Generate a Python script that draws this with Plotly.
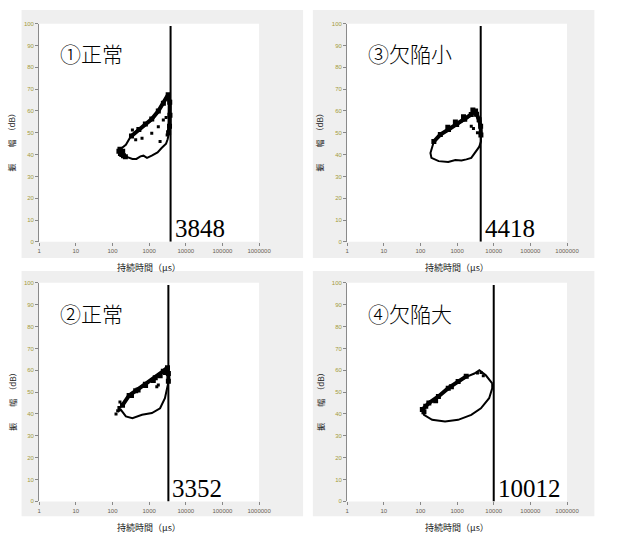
import math
import plotly.graph_objects as go

W, H = 624, 538

# ---------------- data ----------------
line_values = [3848, 4418, 3352, 10012]
panel_labels = ["①正常", "③欠陥小", "②正常", "④欠陥大"]
x_tick_vals = [1, 10, 100, 1000, 10000, 100000, 1000000]
x_tick_text = ["1", "10", "100", "1000", "10000", "100000", "1000000"]
y_tick_vals = [0, 10, 20, 30, 40, 50, 60, 70, 80, 90, 100]
x_title = "持続時間（μs）"
y_title = "振　　幅　（dB）"

# panel 1 (top-left, ①正常)
p1_outline_x = [3311, 3500, 3600, 3550, 3500, 3200, 2900, 2190, 1700, 1180, 875, 700, 580, 450, 350, 257, 200, 153, 180, 232, 315, 525, 790, 1180, 1780, 2450, 3311]
p1_outline_y = [67.5, 64, 60, 55, 50, 47, 45, 43, 41, 39.5, 38.5, 39.5, 39.2, 38, 38, 38.8, 40, 41.5, 43, 44.5, 48.3, 51.3, 53.6, 55.9, 59.6, 63.4, 67.5]
p1_edge_x = [330, 525, 790, 1180, 1780, 2450, 3311, 3650, 3700, 3600, 3400]
p1_edge_y = [48.5, 51.5, 54, 56.3, 60, 63.6, 67.5, 64, 58, 53, 50]
p1_blob_x = [150, 165, 180, 200, 225, 160, 190]
p1_blob_y = [41.5, 40.5, 40, 39.5, 39, 42.5, 41.5]
p1_dots_x = [350, 430, 640, 1780, 1990, 1180, 2440, 2900, 3100]
p1_dots_y = [51.3, 46.8, 47.5, 52.8, 46, 49.8, 55.9, 57, 49]

# panel 3 (top-right, ③欠陥小)
p3_outline_x = [2960, 3400, 3900, 4300, 4470, 4470, 4000, 3310, 2440, 1800, 1320, 900, 575, 315, 200, 188, 210, 233, 350, 585, 975, 1620, 2440, 2960]
p3_outline_y = [59.6, 58, 55, 52.8, 48, 46, 43.5, 41.5, 38.5, 37.8, 37.3, 37.5, 36.6, 37, 38.5, 40.7, 43, 46, 49, 51.3, 53.6, 55.9, 58.1, 59.6]
p3_edge_x = [233, 350, 585, 975, 1620, 2440, 2960, 3400, 4000, 4400, 4470]
p3_edge_y = [46, 49.2, 51.5, 53.8, 56.2, 58.4, 59.8, 58.5, 56, 53, 49]
p3_blob_x = [560, 900, 1500, 2700, 3200]
p3_blob_y = [52.5, 55, 57.3, 60.5, 60]
p3_dots_x = [2440, 2800, 3600]
p3_dots_y = [53, 52, 50]

# panel 2 (bottom-left, ②正常)
p2_outline_x = [3170, 3350, 3300, 3000, 2700, 1990, 1190, 640, 350, 232, 170, 139, 160, 188, 285, 430, 790, 1470, 2440, 3170]
p2_outline_y = [61.5, 58, 54, 50, 47.2, 42.6, 40.4, 39.6, 38.1, 38.9, 41.9, 41.1, 43, 44.1, 48.7, 50.9, 54, 57, 60, 61.5]
p2_edge_x = [188, 285, 430, 790, 1470, 2440, 3170, 3350, 3350]
p2_edge_y = [44, 48.5, 50.6, 53.6, 56.6, 59.6, 61.2, 58.5, 55]
p2_blob_x = [330, 500, 800, 1300, 2000, 2800]
p2_blob_y = [48.5, 51, 53, 55.3, 57.5, 59]
p2_dots_x = [139, 150, 125, 160, 1780, 1620]
p2_dots_y = [41.5, 43, 40, 45.5, 53.2, 52.5]

# panel 4 (bottom-right, ④欠陥大)
p4_outline_x = [9100, 6100, 4060, 2970, 1780, 1070, 575, 310, 170, 113, 125, 209, 470, 1070, 2440, 4470, 7500, 9100, 9100]
p4_outline_y = [54, 57.7, 60, 58.5, 57, 54.7, 51.7, 47.9, 44.9, 41.9, 39.6, 37.3, 36.6, 37.3, 39.6, 42.6, 47.2, 51.7, 54]
p4_edge_x = [113, 170, 310, 575, 1070, 1780]
p4_edge_y = [42, 45, 48, 51.8, 54.8, 57.2]
p4_blob_x = [125, 140, 260, 700]
p4_blob_y = [41, 43.5, 46, 52.5]
p4_dots_x = [4500, 5200, 3600]
p4_dots_y = [59, 57.5, 58.8]

panels = [
    (p1_outline_x, p1_outline_y, p1_edge_x, p1_edge_y, p1_blob_x, p1_blob_y, p1_dots_x, p1_dots_y),
    (p3_outline_x, p3_outline_y, p3_edge_x, p3_edge_y, p3_blob_x, p3_blob_y, p3_dots_x, p3_dots_y),
    (p2_outline_x, p2_outline_y, p2_edge_x, p2_edge_y, p2_blob_x, p2_blob_y, p2_dots_x, p2_dots_y),
    (p4_outline_x, p4_outline_y, p4_edge_x, p4_edge_y, p4_blob_x, p4_blob_y, p4_dots_x, p4_dots_y),
]

# ---------------- layout geometry (pixels) ----------------
plot_px = [(38, 263, 21, 241.5), (353, 578, 21, 241.5),
           (38, 263, 283, 504), (353, 578, 283, 504)]
gray_px = [(20, 308, 7, 258), (318, 606, 7, 258),
           (20, 308, 271, 519), (318, 606, 271, 519)]


def px(x):
    return x / W


def py(y):
    return 1 - y / H


fig = go.Figure()
shapes = []
annotations = []
layout_axes = {}

for (gx0, gx1, gy0, gy1) in gray_px:
    shapes.append(dict(type="rect", xref="paper", yref="paper", layer="below",
                       x0=px(gx0), x1=px(gx1), y0=py(gy1), y1=py(gy0),
                       fillcolor="#efefef", line=dict(width=0)))
for (l, r, t, b) in plot_px:
    shapes.append(dict(type="rect", xref="paper", yref="paper", layer="below",
                       x0=px(l), x1=px(r), y0=py(b), y1=py(t),
                       fillcolor="white", line=dict(width=0)))

for i, (ox, oy, ex, ey, bx, by, dx, dy) in enumerate(panels):
    n = i + 1
    xa = "x" if n == 1 else f"x{n}"
    ya = "y" if n == 1 else f"y{n}"
    l, r, t, b = plot_px[i]
    layout_axes["xaxis" if n == 1 else f"xaxis{n}"] = dict(
        domain=[px(l), px(r)], anchor=ya, type="log", range=[0, 6],
        tickvals=x_tick_vals, ticktext=x_tick_text, ticks="outside", ticklen=3,
        tickcolor="#888888", tickfont=dict(size=6, color="#6a5f52", family="Liberation Sans"),
        showgrid=False, zeroline=False, showline=False, fixedrange=True)
    layout_axes["yaxis" if n == 1 else f"yaxis{n}"] = dict(
        domain=[py(b), py(t)], anchor=xa, range=[0, 100],
        tickvals=y_tick_vals, ticks="outside", ticklen=3,
        tickcolor="#888888", tickfont=dict(size=6, color="#a39a3c", family="Liberation Sans"),
        showgrid=False, zeroline=False, showline=True, linecolor="#8a8a8a", linewidth=1,
        fixedrange=True)

    fig.add_trace(go.Scatter(x=ox, y=oy, mode="lines", xaxis=xa, yaxis=ya,
                             line=dict(color="black", width=2), showlegend=False,
                             hoverinfo="skip"))
    fig.add_trace(go.Scatter(x=ex, y=ey, mode="lines+markers", xaxis=xa, yaxis=ya,
                             line=dict(color="black", width=4),
                             marker=dict(symbol="square", size=5, color="black"),
                             showlegend=False, hoverinfo="skip"))
    fig.add_trace(go.Scatter(x=bx, y=by, mode="markers", xaxis=xa, yaxis=ya,
                             marker=dict(symbol="square", size=5, color="black"),
                             showlegend=False, hoverinfo="skip"))
    fig.add_trace(go.Scatter(x=dx, y=dy, mode="markers", xaxis=xa, yaxis=ya,
                             marker=dict(symbol="square", size=3, color="black"),
                             showlegend=False, hoverinfo="skip"))
    v = line_values[i]
    fig.add_trace(go.Scatter(x=[v, v], y=[0, 99], mode="lines", xaxis=xa, yaxis=ya,
                             line=dict(color="black", width=2), showlegend=False,
                             hoverinfo="skip"))
    annotations.append(dict(x=math.log10(v), y=6, xref=xa, yref=ya,
                            text=str(v), showarrow=False, xanchor="left", yanchor="middle",
                            xshift=2,
                            font=dict(family="Liberation Serif", size=25, color="black")))
    annotations.append(dict(x=px(l + 19), y=py(t + 30), xref="paper", yref="paper",
                            text=panel_labels[i], showarrow=False, xanchor="left",
                            yanchor="middle",
                            font=dict(family="Noto Sans CJK JP", size=21, color="black",
                                      weight=300)))
    annotations.append(dict(x=px((l + r) / 2), y=py(b + 26), xref="paper", yref="paper",
                            text=x_title, showarrow=False, xanchor="center", yanchor="middle",
                            font=dict(family="Noto Sans CJK JP", size=9, color="#222222")))
    annotations.append(dict(x=px(l - 28), y=py((t + b) / 2 + 8), xref="paper", yref="paper",
                            text=y_title, showarrow=False, xanchor="center", yanchor="middle",
                            textangle=-90,
                            font=dict(family="Noto Sans CJK JP", size=8, color="#222222")))

fig.update_layout(
    width=W, height=H, margin=dict(l=0, r=0, t=0, b=0),
    paper_bgcolor="white", plot_bgcolor="rgba(0,0,0,0)",
    shapes=shapes, annotations=annotations, showlegend=False,
    **layout_axes)

fig.write_html("out.html")
